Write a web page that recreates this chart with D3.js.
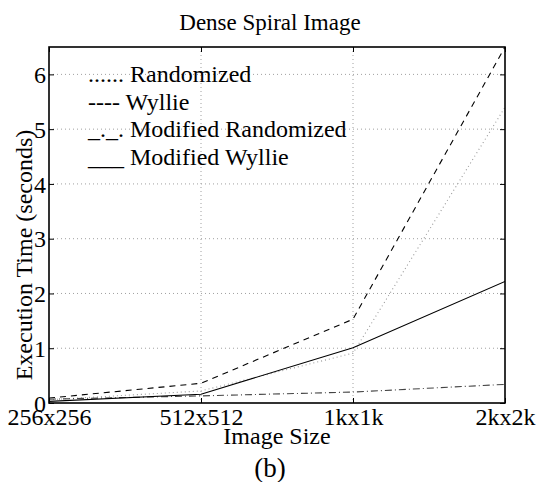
<!DOCTYPE html>
<html>
<head>
<meta charset="utf-8">
<script src="https://cdn.jsdelivr.net/npm/d3@7"></script>
<style>
  html, body { margin: 0; padding: 0; background: #fff; }
  svg { display: block; }
  svg text { font-family: "Liberation Serif", "Times New Roman", Times, serif; }
</style>
</head>
<body>
<svg id="chart" width="542" height="482"></svg>
<script>
// Image sizes along the x axis
const categories = ["256x256", "512x512", "1kx1k", "2kx2k"];

// Execution times in seconds for each algorithm
const randomized         = [0.06, 0.22, 0.91, 5.40];
const wyllie             = [0.09, 0.36, 1.53, 6.50];
const modifiedRandomized = [0.07, 0.13, 0.20, 0.34];
const modifiedWyllie     = [0.03, 0.16, 1.01, 2.22];

const yTicks = [0, 1, 2, 3, 4, 5, 6];

const legendLabels = [
  "...... Randomized",
  "---- Wyllie",
  "_._. Modified Randomized",
  "___ Modified Wyllie"
];

const series = [
  { values: randomized,         color: "#9a9a9a", dash: "1,3" },
  { values: wyllie,             color: "#000",    dash: "6,5" },
  { values: modifiedRandomized, color: "#444",    dash: "7,3,1,3" },
  { values: modifiedWyllie,     color: "#000",    dash: null }
];

const SERIF = '"Liberation Serif", "Times New Roman", Times, serif';

const margin = { left: 49, right: 37, top: 47, bottom: 79 };
const W = 542, H = 482;
const plotW = W - margin.left - margin.right;
const plotH = H - margin.top - margin.bottom;

const svg = d3.select("#chart");
const g = svg.append("g").attr("transform", `translate(${margin.left},${margin.top})`);

const x = d3.scalePoint().domain(categories).range([0, plotW]);
const y = d3.scaleLinear().domain([0, 6.5]).range([plotH, 0]);

// dotted grid
const grid = g.append("g").attr("class", "grid");
grid.selectAll("line.h").data(yTicks.filter(d => d > 0)).join("line")
  .attr("x1", 0).attr("x2", plotW)
  .attr("y1", d => y(d)).attr("y2", d => y(d))
  .attr("stroke", "#a0a0a0").attr("stroke-width", 1).attr("stroke-dasharray", "1,3");
grid.selectAll("line.v").data(categories.slice(1, -1)).join("line")
  .attr("x1", d => x(d)).attr("x2", d => x(d))
  .attr("y1", 0).attr("y2", plotH)
  .attr("stroke", "#a0a0a0").attr("stroke-width", 1).attr("stroke-dasharray", "1,3");

// series lines
const line = d3.line().x((d, i) => x(categories[i])).y(d => y(d));
g.append("defs").append("clipPath").attr("id", "clip")
  .append("rect").attr("width", plotW).attr("height", plotH);
const lines = g.append("g").attr("clip-path", "url(#clip)");
series.forEach(s => {
  lines.append("path")
    .datum(s.values)
    .attr("d", line)
    .attr("fill", "none")
    .attr("stroke", s.color)
    .attr("stroke-width", 1.1)
    .attr("stroke-dasharray", s.dash);
});

// axes with inward ticks
const leftAxis = g.append("g")
  .call(d3.axisLeft(y).tickValues(yTicks).tickFormat(d3.format("d")).tickSizeInner(-5).tickSizeOuter(0).tickPadding(3));
const rightAxis = g.append("g").attr("transform", `translate(${plotW},0)`)
  .call(d3.axisRight(y).tickValues(yTicks).tickFormat("").tickSizeInner(-5).tickSizeOuter(0));
const bottomAxis = g.append("g").attr("transform", `translate(0,${plotH})`)
  .call(d3.axisBottom(x).tickSizeInner(-5).tickSizeOuter(0).tickPadding(6));
const topAxis = g.append("g")
  .call(d3.axisTop(x).tickFormat("").tickSizeInner(-5).tickSizeOuter(0));

[leftAxis, rightAxis, bottomAxis, topAxis].forEach(a => {
  a.attr("font-family", SERIF).attr("font-size", 24);
  a.select(".domain").remove();
  a.selectAll(".tick line").attr("stroke", "#000").attr("stroke-width", 1);
  a.selectAll(".tick text")
    .attr("fill", "#000")
    .attr("font-family", SERIF)
    .attr("font-size", 24);
});
bottomAxis.selectAll(".tick text").attr("dy", "0.65em");
leftAxis.selectAll(".tick text").attr("dy", "0.34em");

// frame
g.append("rect")
  .attr("width", plotW).attr("height", plotH)
  .attr("fill", "none").attr("stroke", "#000").attr("stroke-width", 1.6);

// legend (text style)
const legend = g.append("g").attr("transform", "translate(39,35)");
legend.selectAll("text").data(legendLabels).join("text")
  .attr("x", 0).attr("y", (d, i) => i * 27.5)
  .attr("font-family", SERIF)
  .attr("font-size", 24)
  .attr("fill", "#000")
  .text(d => d);

// title & labels
svg.append("text")
  .attr("x", 270).attr("y", 30)
  .attr("text-anchor", "middle")
  .attr("font-family", SERIF)
  .attr("font-size", 23)
  .text("Dense Spiral Image");

svg.append("text")
  .attr("x", 277).attr("y", 444)
  .attr("text-anchor", "middle")
  .attr("font-family", SERIF)
  .attr("font-size", 24)
  .text("Image Size");

svg.append("text")
  .attr("transform", "translate(32,255) rotate(-90)")
  .attr("text-anchor", "middle")
  .attr("font-family", SERIF)
  .attr("font-size", 24)
  .text("Execution Time (seconds)");

svg.append("text")
  .attr("x", 270).attr("y", 477)
  .attr("text-anchor", "middle")
  .attr("font-family", SERIF)
  .attr("font-size", 27)
  .text("(b)");
</script>
</body>
</html>
